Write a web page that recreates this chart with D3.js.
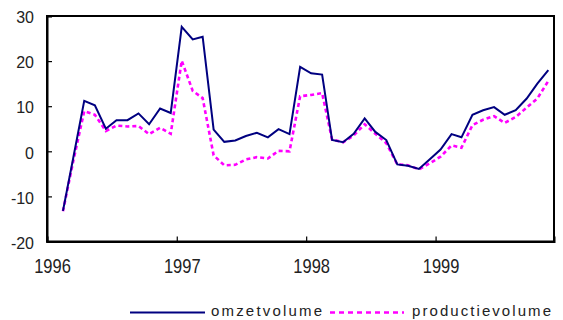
<!DOCTYPE html>
<html>
<head>
<meta charset="utf-8">
<script src="https://cdn.jsdelivr.net/npm/d3@7"></script>
<style>
  html, body { margin: 0; padding: 0; background: #fff; }
  svg { display: block; }
  text { font-family: "Liberation Sans", Arial, sans-serif; fill: #222; }
</style>
</head>
<body>
<svg id="chart" width="563" height="320"></svg>
<script>
// Monthly year-on-year change (%), February 1996 through November 1999
const months = d3.timeMonth.range(new Date(1996, 1, 1), new Date(1999, 11, 1));

const omzetvolume = [
  -13.2, -1.5, 11.2, 10.2, 5.0, 6.9, 6.9, 8.4, 6.0, 9.5, 8.5,
  27.6, 24.8, 25.4, 4.8, 2.1, 2.4, 3.4, 4.1, 3.1, 4.9, 3.8, 18.7,
  17.3, 17.0, 2.5, 2.0, 3.9, 7.3, 4.3, 2.5, -2.9, -3.2, -3.9, -1.8,
  0.4, 3.8, 3.1, 8.1, 9.1, 9.8, 8.1, 9.1, 11.7, 15.0, 18.0
];

const productievolume = [
  -13.3, -2.2, 8.9, 8.1, 4.5, 5.7, 5.5, 5.6, 3.8, 5.2, 3.9,
  20.1, 13.4, 11.8, -0.9, -3.1, -3.0, -1.8, -1.3, -1.6, 0.1, 0.0, 12.2,
  12.5, 12.9, 2.6, 2.0, 3.5, 6.0, 3.9, 1.8, -2.9, -3.1, -4.0, -2.7,
  -1.2, 1.3, 0.8, 5.8, 7.0, 7.8, 6.3, 7.6, 9.7, 11.7, 15.6
];

const yTicks = [-20, -10, 0, 10, 20, 30];
const yearTicks = [1996, 1997, 1998, 1999];
const seriesNames = ["omzetvolume", "productievolume"];

const svg = d3.select("#chart");
const plot = { left: 47, right: 554, top: 16, bottom: 241.5 };

const x = d3.scaleTime()
  .domain([new Date(1996, 0, 1), new Date(1999, 11, 1)])
  .range([plot.left, plot.right]);

const y = d3.scaleLinear()
  .domain([-20, 30])
  .range([plot.bottom, plot.top]);

// mid-month position for each observation
const xMid = d => x(d3.timeDay.offset(d, 14));

// plot frame
svg.append("rect")
  .attr("x", plot.left).attr("y", plot.top)
  .attr("width", plot.right - plot.left).attr("height", plot.bottom - plot.top)
  .attr("fill", "none").attr("stroke", "#000").attr("stroke-width", 2);

// y axis with inward ticks (plain hyphen for negatives)
const yAxis = svg.append("g")
  .attr("transform", `translate(${plot.left},0)`)
  .call(d3.axisLeft(y).tickValues(yTicks).tickSize(-5).tickPadding(0).tickFormat(d => String(d)));
yAxis.select(".domain").attr("stroke", "#000").attr("stroke-width", 2);
yAxis.selectAll(".tick line").attr("stroke", "#000").attr("stroke-width", 1.2);
yAxis.selectAll(".tick text")
  .attr("x", -13).attr("dy", "0.42em")
  .style("font-size", "16px").style("fill", "#222");

// x axis with inward ticks at each January
const xAxis = svg.append("g")
  .attr("transform", `translate(0,${plot.bottom})`)
  .call(d3.axisBottom(x)
    .tickValues(yearTicks.map(yr => new Date(yr, 0, 1)))
    .tickSize(-5).tickPadding(0)
    .tickFormat((d, i) => yearTicks[i]));
xAxis.select(".domain").attr("stroke", "#000").attr("stroke-width", 2);
xAxis.selectAll(".tick line").attr("stroke", "#000").attr("stroke-width", 1.2);
xAxis.selectAll(".tick text")
  .attr("y", 0).attr("dy", null)
  .attr("transform", "translate(5,31.8) scale(1,1.27)")
  .style("font-size", "16.5px").style("fill", "#222");

const line = d3.line()
  .x((d, i) => xMid(months[i]))
  .y(d => y(d));

// productievolume (dashed magenta)
svg.append("path")
  .datum(productievolume)
  .attr("d", line)
  .attr("fill", "none")
  .attr("stroke", "#ff00ff")
  .attr("stroke-width", 2.6)
  .attr("stroke-dasharray", "4,3");

// omzetvolume (solid navy)
svg.append("path")
  .datum(omzetvolume)
  .attr("d", line)
  .attr("fill", "none")
  .attr("stroke", "#000080")
  .attr("stroke-width", 2)
  .attr("stroke-linejoin", "miter");

// legend
const legend = svg.append("g");
const legendY = 312.5;
legend.append("line")
  .attr("x1", 130).attr("x2", 205).attr("y1", legendY).attr("y2", legendY)
  .attr("stroke", "#000080").attr("stroke-width", 2);
legend.append("text")
  .attr("x", 211).attr("y", 315.5)
  .attr("textLength", 111).attr("lengthAdjust", "spacing")
  .style("font-size", "15px")
  .text(seriesNames[0]);
legend.append("line")
  .attr("x1", 330).attr("x2", 404).attr("y1", legendY).attr("y2", legendY)
  .attr("stroke", "#ff00ff").attr("stroke-width", 2.6)
  .attr("stroke-dasharray", "5,4");
legend.append("text")
  .attr("x", 412).attr("y", 315.5)
  .attr("textLength", 139).attr("lengthAdjust", "spacing")
  .style("font-size", "15px")
  .text(seriesNames[1]);
</script>
</body>
</html>
